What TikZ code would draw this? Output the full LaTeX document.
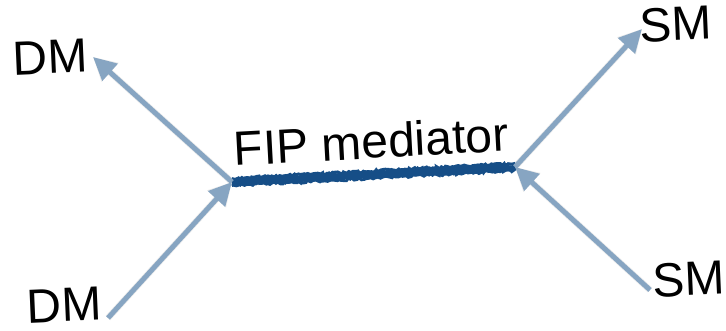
\documentclass[tikz,border=0pt]{standalone}
\usepackage{fontspec}
\setmainfont{Liberation Sans}
\usetikzlibrary{arrows.meta,decorations.pathmorphing}
\definecolor{legblue}{RGB}{135,165,194}
\definecolor{medblue}{RGB}{22,78,135}
\tikzset{
  lbl/.style={font=\fontsize{48}{56}\selectfont, inner sep=0pt, text depth=0pt, rotate=2.5},
  leg/.style={draw=legblue, line width=5pt, -{Triangle[length=23pt,width=22pt]}},
  legshadow/.style={draw=black!35, opacity=0.22, line width=6.5pt, -{Triangle[length=23pt,width=24pt]}},
  rough/.style={draw=medblue, line width=2.8pt,
    decorate, decoration={random steps, segment length=2pt, amplitude=1.2pt}}
}
\begin{document}
\begin{tikzpicture}[x=1pt,y=-1pt]
\useasboundingbox (0,0) rectangle (726,331);
\pgfmathsetseed{7}
% vertices and free line ends
\coordinate (vl) at (232,182);
\coordinate (vr) at (515,167);
\coordinate (dmin) at (108,318);
\coordinate (dmout) at (93,57);
\coordinate (smout) at (642,29);
\coordinate (smin) at (650,290);
% labels
\node[lbl] (dmtop) at (50,57) {DM};
\node[lbl] (dmbot) at (64,305) {DM};
\node[lbl] (smtop) at (676,24) {SM};
\node[lbl] (smbot) at (689,279) {SM};
\node[lbl, rotate=0.6] (fip) at (371,141) {FIP mediator};
% soft shadows of the legs
\begin{scope}[shift={(3,4)}]
  \draw[legshadow] (dmin) -- (vl);
  \draw[legshadow] (vl) -- (dmout);
  \draw[legshadow] (vr) -- (smout);
  \draw[legshadow] (smin) -- (vr);
\end{scope}
% mediator: a rough brush stroke
\foreach \dy in {-3.6,-2.4,-1.2,0,1.2,2.4,3.6}{
  \draw[rough] ([yshift=\dy pt]vl) -- ([yshift=\dy pt]vr);
}
% external legs
\draw[leg] (dmin) -- (vl);
\draw[leg] (vl) -- (dmout);
\draw[leg] (vr) -- (smout);
\draw[leg] (smin) -- (vr);
\end{tikzpicture}
\end{document}
